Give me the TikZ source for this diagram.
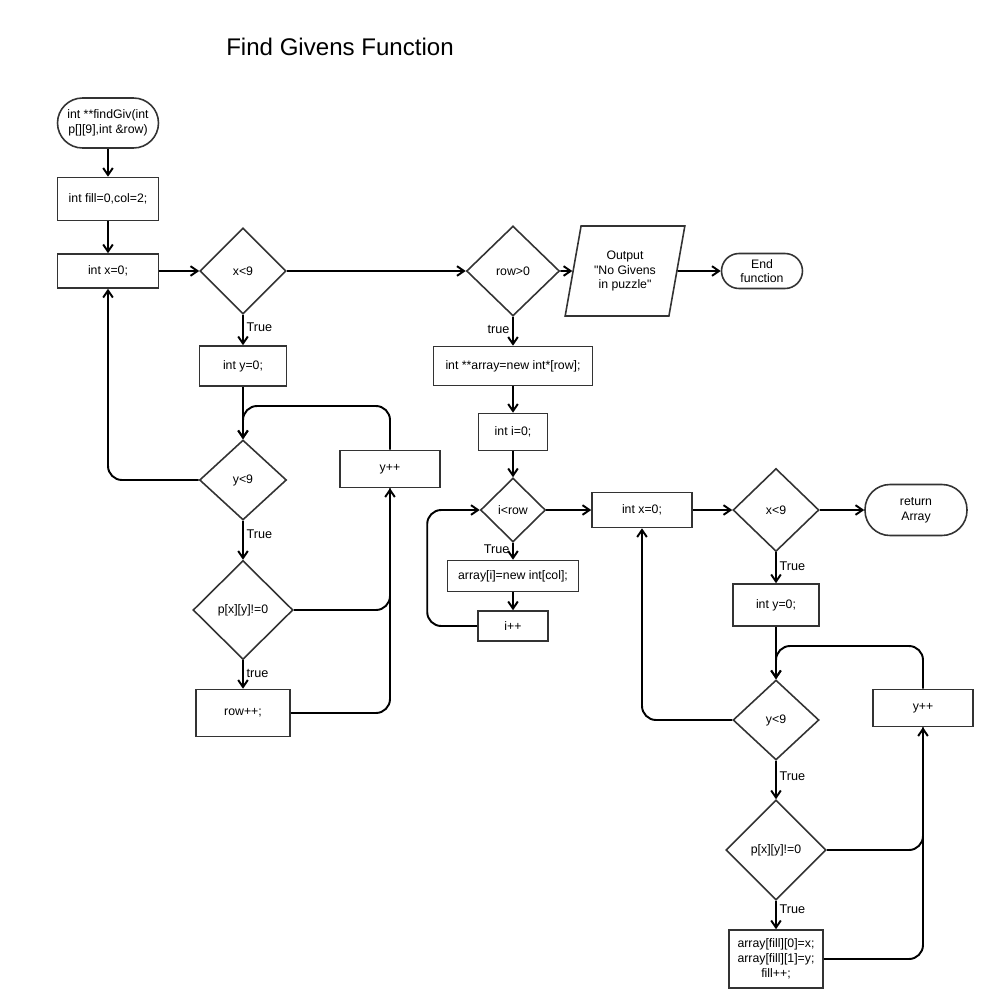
\documentclass[tikz,border=0pt]{standalone}
\usepackage{fontspec}
\setmainfont{Liberation Sans}[Ligatures={TeXOff,NoCommon}]
\usepackage{xcolor}
\usepackage{tikz}
\usetikzlibrary{arrows.meta,shapes.geometric}

\definecolor{edge}{HTML}{333333}

\begin{document}
\begin{tikzpicture}[x=0.02cm,y=-0.02cm,
  every node/.style={font=\fontsize{7}{8.4}\selectfont},
  proc/.style={draw=edge,line width=0.9pt,inner sep=1pt,align=center},
  decide/.style={draw=edge,line width=0.9pt,diamond,inner sep=0pt,align=center},
  term/.style={draw=edge,line width=0.9pt,inner sep=1pt,align=center},
  io/.style={draw=edge,line width=0.9pt,trapezium,trapezium stretches=true,
    trapezium left angle=75,trapezium right angle=105,inner sep=1pt,align=center},
  arr/.style={line width=1.1pt,-{Straight Barb[length=4pt,width=5.5pt]}},
  link/.style={line width=1.1pt},
  lbl/.style={font=\fontsize{7.2}{8.6}\selectfont,inner sep=1.5pt}]
  \useasboundingbox (0,0) rectangle (999,1008);

  \node (title) at (340,47) {\fontsize{13.7}{16}\selectfont Find Givens Function};

  % outer loop over the puzzle
  \node[term,rounded corners=0.5cm,minimum width=2.02cm,minimum height=1cm] (start) at (108,123) {int **findGiv(int\\p[][9],int \&row)};
  \node[proc,minimum width=2.02cm,minimum height=0.86cm] (init) at (108,199) {int fill=0,col=2;};
  \node[proc,minimum width=2.02cm,minimum height=0.68cm] (setx) at (108,271) {int x=0;};
  \node[decide,minimum width=1.72cm,minimum height=1.72cm] (xlt) at (243,271) {x<9};
  \node[proc,minimum width=1.74cm,minimum height=0.8cm] (sety) at (243,366) {int y=0;};
  \node[decide,minimum width=1.74cm,minimum height=1.6cm] (ylt) at (243,480) {y<9};
  \node[proc,minimum width=2cm,minimum height=0.74cm] (yinc) at (390,469) {y++};
  \node[decide,minimum width=2cm,minimum height=1.98cm] (pchk) at (243,610) {p[x][y]!=0};
  \node[proc,minimum width=1.88cm,minimum height=0.94cm] (rowinc) at (243,713) {row++;};

  % build the array
  \node[decide,minimum width=1.86cm,minimum height=1.8cm] (rowgt) at (513,271) {row>0};
  \node[io,minimum width=2.4cm,minimum height=1.8cm] (outmsg) at (625,271) {Output\\"No Givens\\in puzzle"};
  \node[term,rounded corners=0.35cm,minimum width=1.62cm,minimum height=0.7cm] (endfn) at (762,271) {End\\function};
  \node[proc,minimum width=3.18cm,minimum height=0.78cm] (newarr) at (513,366) {int **array=new int*[row];};
  \node[proc,minimum width=1.38cm,minimum height=0.74cm] (seti) at (513,432) {int i=0;};
  \node[decide,minimum width=1.3cm,minimum height=1.28cm] (ilt) at (513,510) {i<row};
  \node[proc,minimum width=2.62cm,minimum height=0.62cm] (newrow) at (513,576) {array[i]=new int[col];};
  \node[proc,minimum width=1.4cm,minimum height=0.6cm] (iinc) at (513,626) {i++};

  % fill the array
  \node[proc,minimum width=2cm,minimum height=0.7cm] (setx2) at (642,510) {int x=0;};
  \node[decide,minimum width=1.72cm,minimum height=1.66cm] (xlt2) at (776,510) {x<9};
  \node[term,rounded corners=0.5cm,minimum width=2.04cm,minimum height=1.02cm] (retarr) at (916,510) {return\\Array};
  \node[proc,minimum width=1.72cm,minimum height=0.84cm] (sety2) at (776,605) {int y=0;};
  \node[decide,minimum width=1.72cm,minimum height=1.6cm] (ylt2) at (776,720) {y<9};
  \node[proc,minimum width=2cm,minimum height=0.74cm] (yinc2) at (923,708) {y++};
  \node[decide,minimum width=2cm,minimum height=2cm] (pchk2) at (776,850) {p[x][y]!=0};
  \node[proc,minimum width=1.88cm,minimum height=1.16cm] (fillbox) at (776,959) {array[fill][0]=x;\\array[fill][1]=y;\\fill++;};

  \draw[arr] (start) -- (init);
  \draw[arr] (init) -- (setx);
  \draw[arr] (setx) -- (xlt);
  \draw[arr] (xlt) -- node[lbl,pos=0.4,right]{True} (sety);
  \draw[arr] (sety) -- (ylt);
  \draw[arr] (ylt) -- node[lbl,pos=0.35,right]{True} (pchk);
  \draw[arr] (pchk) -- node[lbl,pos=0.45,right]{true} (rowinc);
  \draw[arr,rounded corners=8] (ylt.west) -| (setx.south);
  \draw[arr,rounded corners=8] (yinc.north) |- (243,406) -- (ylt.north);
  \draw[arr,rounded corners=8] (pchk.east) -| (yinc.south);
  \draw[link,rounded corners=8] (rowinc.east) -| (yinc.south);

  \draw[arr] (xlt) -- (rowgt);
  \draw[arr] (rowgt) -- (outmsg);
  \draw[arr] (outmsg) -- (endfn);
  \draw[arr] (rowgt) -- node[lbl,pos=0.45,left]{true} (newarr);
  \draw[arr] (newarr) -- (seti);
  \draw[arr] (seti) -- (ilt);
  \draw[arr] (ilt) -- node[lbl,pos=0.4,left]{True} (newrow);
  \draw[arr] (newrow) -- (iinc);
  \draw[arr,rounded corners=8] (iinc.west) -- ++(-50,0) |- (ilt.west);
  \draw[arr] (ilt) -- (setx2);

  \draw[arr] (setx2) -- (xlt2);
  \draw[arr] (xlt2) -- (retarr);
  \draw[arr] (xlt2) -- node[lbl,pos=0.45,right]{True} (sety2);
  \draw[arr] (sety2) -- (ylt2);
  \draw[arr] (ylt2) -- node[lbl,pos=0.4,right]{True} (pchk2);
  \draw[arr] (pchk2) -- node[lbl,pos=0.3,right]{True} (fillbox);
  \draw[arr,rounded corners=8] (ylt2.west) -| (setx2.south);
  \draw[arr,rounded corners=8] (yinc2.north) |- (776,646) -- (ylt2.north);
  \draw[arr,rounded corners=8] (pchk2.east) -| (yinc2.south);
  \draw[link,rounded corners=8] (fillbox.east) -| (yinc2.south);
\end{tikzpicture}
\end{document}
